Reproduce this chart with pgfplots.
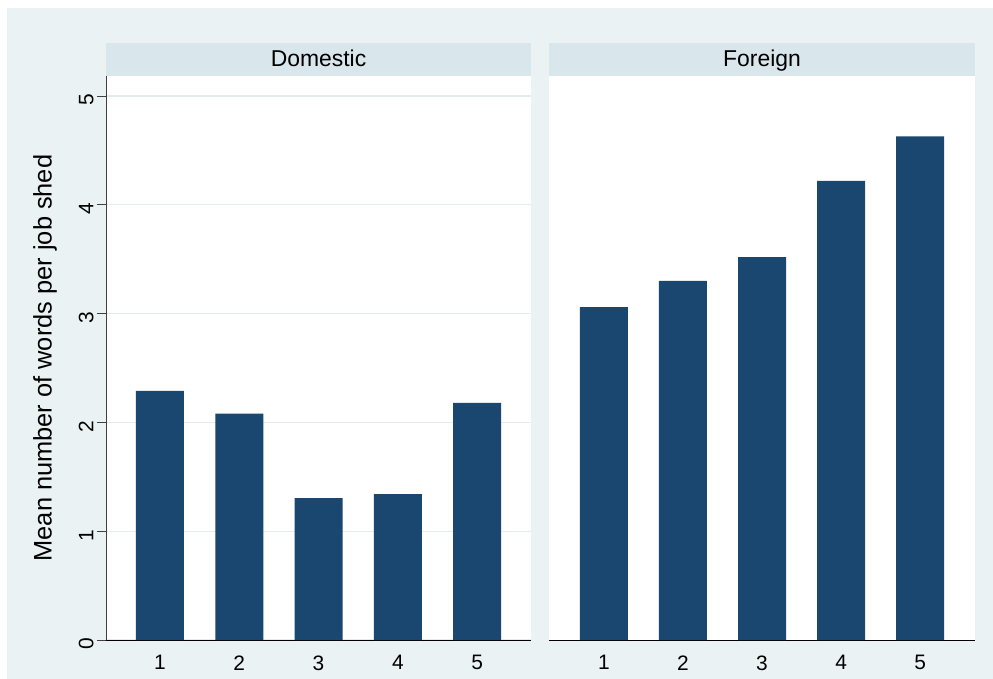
\documentclass[border=0pt]{standalone}
\usepackage{pgfplots}
\pgfplotsset{compat=1.18}
\usepackage{fontspec}
\setmainfont{Liberation Sans}
\definecolor{bgc}{HTML}{EAF2F3}
\definecolor{stripc}{HTML}{D9E6EB}
\definecolor{barc}{HTML}{1A476F}
\definecolor{gridc}{HTML}{E3ECEF}
\begin{document}
\begin{tikzpicture}
\path (0bp,0bp) rectangle (993bp,-679bp);
\fill[bgc] (7bp,-8bp) rectangle (993bp,-679bp);
\fill[stripc] (106bp,-43bp) rectangle (531bp,-76bp);
\fill[stripc] (549bp,-43bp) rectangle (975bp,-76bp);
\node[anchor=base, inner sep=0pt] at (318.5bp,-66bp) {\fontsize{23}{23}\selectfont Domestic};
\node[anchor=base, inner sep=0pt] at (762bp,-66bp) {\fontsize{23}{23}\selectfont Foreign};
\node[rotate=90] at (45bp,-358bp) {\fontsize{25.5}{25.5}\selectfont Mean number of words per job shed};
\pgfplotsset{panel/.style={
  scale only axis, height=564bp, ymin=0, ymax=5.184,
  anchor=south west,
  axis background/.style={fill=white},
  ybar, bar width=48bp,
  xtick={1,2,3,4,5}, ytick={0,1,2,3,4,5},
  ymajorgrids, grid style={gridc, line width=1.2bp},
  xtick style={draw=none},
  tick label style={font=\fontsize{21}{21}\selectfont},
  /pgf/number format/assume math mode=true,
  xticklabel style={yshift=-3bp},
  tick align=outside, major tick length=9bp,
  axis x line*=bottom,
  x axis line style={black, line width=1bp},
  enlarge y limits=false,
}}
\begin{axis}[panel, at={(106bp,-640bp)}, width=425bp, xmin=0.319, xmax=5.68,
  axis y line*=left,
  y axis line style={black!75, line width=1bp},
  ytick style={black!75, line width=1bp},
  yticklabel style={rotate=90, anchor=south, xshift=-4bp}]
\addplot[fill=barc, draw=none] coordinates {(1,2.29) (2,2.08) (3,1.305) (4,1.34) (5,2.18)};
\end{axis}
\begin{axis}[panel, at={(549bp,-640bp)}, width=426bp, xmin=0.306, xmax=5.694,
  axis y line=none]
\addplot[fill=barc, draw=none] coordinates {(1,3.06) (2,3.30) (3,3.52) (4,4.22) (5,4.63)};
\end{axis}
\end{tikzpicture}
\end{document}
